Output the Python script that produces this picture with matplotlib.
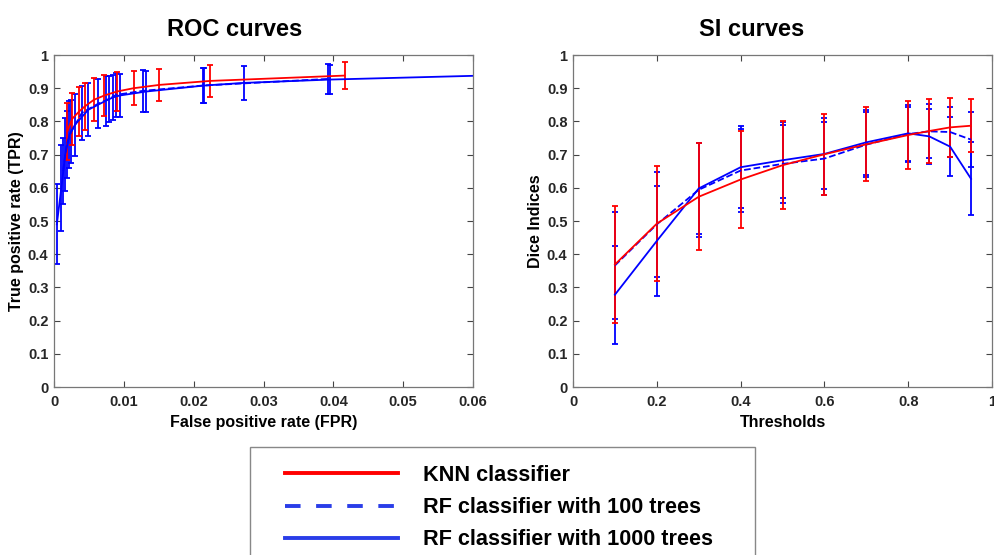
import numpy as np
import matplotlib.pyplot as plt
from matplotlib.lines import Line2D
from matplotlib.patches import Rectangle

plt.rcParams['font.family'] = ['Liberation Sans', 'DejaVu Sans']
plt.rcParams['font.weight'] = 'bold'

# ROC curves (mean TPR with std error bars)
fpr_knn = [0.0019, 0.0026, 0.0036, 0.0044, 0.0057, 0.0072, 0.0090, 0.0114, 0.0151, 0.0224, 0.0416]
tpr_knn = [0.770, 0.808, 0.830, 0.845, 0.865, 0.878, 0.890, 0.900, 0.910, 0.922, 0.938]
err_knn = [0.086, 0.079, 0.075, 0.070, 0.065, 0.061, 0.058, 0.052, 0.049, 0.047, 0.040]

fpr_rf100 = [0.0013, 0.0018, 0.0025, 0.0040, 0.0063, 0.0079, 0.0089, 0.0127, 0.0213, 0.0393]
tpr_rf100 = [0.650, 0.730, 0.770, 0.826, 0.853, 0.868, 0.880, 0.892, 0.908, 0.928]
err_rf100 = [0.100, 0.100, 0.095, 0.082, 0.074, 0.070, 0.066, 0.063, 0.052, 0.045]

fpr_rf1000 = [0.0004, 0.00105, 0.0016, 0.0022, 0.0030, 0.0049, 0.0074, 0.0084, 0.0094, 0.0132, 0.0215, 0.0272, 0.0395, 0.065]
tpr_rf1000 = [0.490, 0.600, 0.700, 0.760, 0.790, 0.835, 0.862, 0.872, 0.878, 0.890, 0.908, 0.916, 0.926, 0.940]
err_rf1000 = [0.120, 0.130, 0.110, 0.100, 0.093, 0.080, 0.075, 0.067, 0.065, 0.062, 0.052, 0.051, 0.044, 0.040]

# SI curves (Dice index vs threshold)
thresholds = [0.1, 0.2, 0.3, 0.4, 0.5, 0.6, 0.7, 0.8, 0.85, 0.9, 0.95]
dice_knn = [0.369, 0.492, 0.573, 0.625, 0.668, 0.701, 0.731, 0.759, 0.771, 0.782, 0.787]
dice_err_knn = [0.175, 0.174, 0.161, 0.147, 0.133, 0.122, 0.111, 0.101, 0.096, 0.089, 0.080]
dice_rf100 = [0.366, 0.490, 0.594, 0.652, 0.672, 0.688, 0.730, 0.762, 0.770, 0.768, 0.745]
dice_err_rf100 = [0.160, 0.158, 0.142, 0.125, 0.118, 0.111, 0.097, 0.081, 0.081, 0.076, 0.083]
dice_rf1000 = [0.278, 0.440, 0.598, 0.662, 0.683, 0.702, 0.737, 0.764, 0.755, 0.724, 0.627]
dice_err_rf1000 = [0.147, 0.165, 0.138, 0.123, 0.115, 0.107, 0.097, 0.085, 0.082, 0.088, 0.110]

labels = ['KNN classifier', 'RF classifier with 100 trees', 'RF classifier with 1000 trees']

fig = plt.figure(figsize=(9.95, 5.55), dpi=100)
ax1 = fig.add_axes([0.0543, 0.3027, 0.4211, 0.5982])
ax2 = fig.add_axes([0.5759, 0.3027, 0.4211, 0.5982])

lw = 1.3
eb = dict(capsize=2.5, elinewidth=lw, capthick=lw, lw=lw)

ax1.errorbar(fpr_rf1000, tpr_rf1000, yerr=err_rf1000, color='b', ls='-', **eb)
ax1.errorbar(fpr_rf100, tpr_rf100, yerr=err_rf100, color='b', ls='--', **eb)
ax1.errorbar(fpr_knn, tpr_knn, yerr=err_knn, color='r', ls='-', **eb)
ax1.set_xlim(0, 0.06)
ax1.set_xticks(np.arange(0, 0.061, 0.01))
ax1.set_xticklabels(['0', '0.01', '0.02', '0.03', '0.04', '0.05', '0.06'])
ax1.set_xlabel('False positive rate (FPR)', fontsize=11.5, fontweight='bold', labelpad=4)
ax1.set_ylabel('True positive rate (TPR)', fontsize=11.5, fontweight='bold', labelpad=3)
ax1.set_title('ROC curves', fontsize=17, fontweight='bold', x=0.43, pad=14)

ax2.errorbar(thresholds, dice_rf1000, yerr=dice_err_rf1000, color='b', ls='-', **eb)
ax2.errorbar(thresholds, dice_rf100, yerr=dice_err_rf100, color='b', ls='--', **eb)
ax2.errorbar(thresholds, dice_knn, yerr=dice_err_knn, color='r', ls='-', **eb)
ax2.set_xlim(0, 1)
ax2.set_xticks([0, 0.2, 0.4, 0.6, 0.8, 1])
ax2.set_xticklabels(['0', '0.2', '0.4', '0.6', '0.8', '1'])
ax2.set_xlabel('Thresholds', fontsize=11.5, fontweight='bold', labelpad=4)
ax2.set_ylabel('Dice Indices', fontsize=11.5, fontweight='bold', labelpad=3)
ax2.set_title('SI curves', fontsize=17, fontweight='bold', x=0.427, pad=14)

ytl = ['0', '0.1', '0.2', '0.3', '0.4', '0.5', '0.6', '0.7', '0.8', '0.9', '1']
for ax in (ax1, ax2):
    ax.set_ylim(0, 1)
    ax.set_yticks(np.arange(0, 1.01, 0.1))
    ax.set_yticklabels(ytl)
    ax.tick_params(direction='in', top=True, right=True, length=4, width=0.8,
                   color='#444444', labelsize=10.5, labelcolor='#262626')
    ax.tick_params(axis='x', pad=6)
    ax.tick_params(axis='y', pad=4)
    for s in ax.spines.values():
        s.set_color('#777777')
        s.set_linewidth(0.9)
    for t in ax.get_xticklabels() + ax.get_yticklabels():
        t.set_fontweight('bold')

# legend panel
fig.patches.append(Rectangle((0.2513, -0.05), 0.5075, 0.2446, transform=fig.transFigure,
                             facecolor='white', edgecolor='#888888', lw=1.0, zorder=0))
handles = [Line2D([], [], color='#ff0000', lw=2.8),
           Line2D([], [], color='#2a3de8', lw=2.8, ls=(0, (4, 4))),
           Line2D([], [], color='#2a3de8', lw=2.8)]
fig.legend(handles, labels, loc='upper left', bbox_to_anchor=(0.2755, 0.182),
           frameon=False, prop={'size': 15.6, 'weight': 'bold'},
           handlelength=5.2, handletextpad=1.15, labelspacing=0.52, borderpad=0)

fig.savefig('out.png', dpi=100)
